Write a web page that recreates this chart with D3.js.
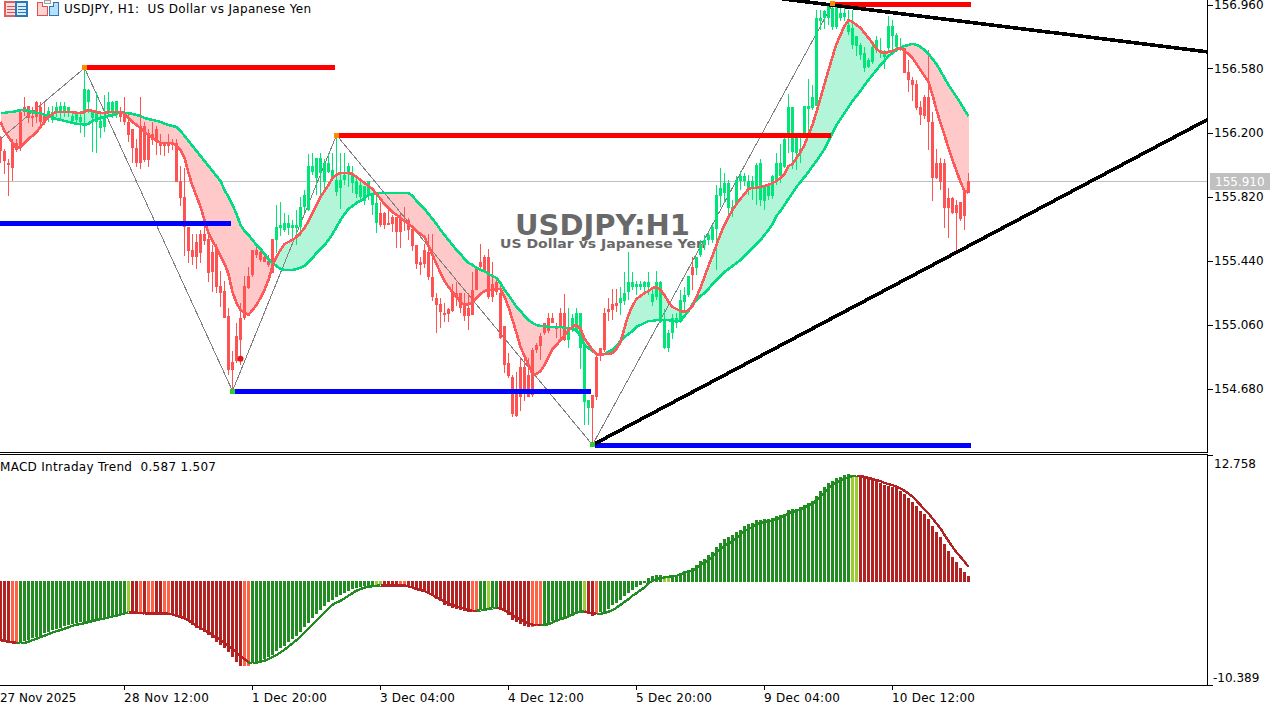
<!DOCTYPE html>
<html><head><meta charset="utf-8"><title>USDJPY H1</title>
<script src="https://cdnjs.cloudflare.com/ajax/libs/d3/7.8.5/d3.min.js"></script>
<style>html,body{margin:0;padding:0;background:#fff;overflow:hidden}svg{display:block}text{white-space:pre;font-family:"DejaVu Sans",sans-serif;font-size:12px;fill:#000}</style>
</head><body><div id="c"></div><script>
const wickHigh=[156.18,156.10,156.04,156.16,156.16,156.33,156.41,156.36,156.35,156.39,
156.38,156.38,156.35,156.36,156.38,156.38,156.38,156.35,156.32,156.33,
156.33,156.58,156.46,156.33,156.44,156.33,156.42,156.44,156.39,156.39,
156.35,156.41,156.32,156.22,156.16,156.41,156.26,156.22,156.26,156.24,
156.19,156.14,156.19,156.16,156.16,156.00,155.99,155.64,155.60,155.60,
155.62,155.69,155.62,155.53,155.54,155.38,155.32,155.16,154.90,155.07,
155.19,155.35,155.40,155.50,155.53,155.52,155.49,155.47,155.57,155.77,
155.79,155.72,155.71,155.68,155.74,155.82,155.86,156.07,156.08,156.05,
156.08,156.04,156.07,156.08,156.19,156.08,156.08,156.02,156.00,155.94,
155.91,155.88,155.91,155.84,155.84,155.79,155.73,155.74,155.71,155.70,
155.72,155.76,155.69,155.64,155.53,155.46,155.54,155.60,155.60,155.25,
155.22,155.19,155.16,155.30,155.31,155.25,155.25,155.25,155.37,155.41,
155.54,155.47,155.51,155.43,155.34,155.31,155.05,154.89,154.76,154.78,
154.87,154.87,154.86,154.92,154.95,155.01,155.07,155.13,155.13,155.07,
155.16,155.24,155.16,155.12,155.16,155.13,154.93,154.61,154.64,154.88,
154.92,155.16,155.22,155.27,155.27,155.28,155.37,155.49,155.37,155.32,
155.32,155.32,155.37,155.28,155.38,155.32,155.15,155.03,155.12,155.13,
155.265,155.28,155.35,155.46,155.46,155.56,155.59,155.61,155.65,155.89,
155.99,155.96,155.92,155.80,155.94,155.97,155.96,155.95,155.94,156.02,
156.04,155.89,155.89,155.95,156.08,156.13,156.17,156.43,156.35,156.20,
156.20,156.36,156.52,156.48,156.93,156.93,156.93,156.96,156.96,156.96,
156.94,156.95,156.93,156.93,156.77,156.73,156.71,156.64,156.72,156.77,
156.76,156.69,156.89,156.87,156.79,156.76,156.70,156.63,156.53,156.51,
156.39,156.42,156.69,156.32,156.10,156.05,156.04,155.87,155.82,155.80,
155.79,155.85,155.96];
const bodyHigh=[156.16,156.09,156.02,156.14,156.14,156.32,156.35,156.36,156.30,156.38,
156.35,156.30,156.33,156.32,156.35,156.36,156.36,156.35,156.30,156.32,
156.29,156.46,156.45,156.33,156.32,156.27,156.29,156.38,156.38,156.39,
156.32,156.32,156.26,156.22,156.11,156.24,156.24,156.20,156.19,156.22,
156.14,156.14,156.14,156.14,156.14,155.91,155.82,155.64,155.50,155.55,
155.60,155.60,155.57,155.49,155.52,155.29,155.26,155.11,154.84,154.99,
155.10,155.29,155.35,155.50,155.50,155.49,155.46,155.44,155.57,155.64,
155.65,155.66,155.66,155.65,155.65,155.76,155.83,156.00,156.00,156.05,
156.05,156.02,156.02,155.98,155.92,155.92,155.95,156.00,155.96,155.91,
155.89,155.88,155.91,155.84,155.78,155.72,155.72,155.66,155.70,155.70,
155.70,155.68,155.68,155.63,155.53,155.43,155.50,155.49,155.34,155.22,
155.18,155.13,155.15,155.25,155.25,155.25,155.18,155.16,155.265,155.40,
155.43,155.46,155.46,155.30,155.31,155.25,155.05,154.83,154.75,154.65,
154.81,154.81,154.76,154.91,154.94,154.99,155.07,155.10,155.10,155.05,
155.13,155.13,155.04,155.10,155.13,155.13,154.93,154.61,154.64,154.87,
154.92,155.13,155.15,155.18,155.19,155.22,155.25,155.31,155.31,155.30,
155.30,155.31,155.31,155.24,155.31,155.31,155.09,155.01,155.10,155.10,
155.205,155.235,155.35,155.40,155.46,155.53,155.56,155.59,155.64,155.83,
155.87,155.90,155.90,155.76,155.92,155.94,155.94,155.91,155.91,156.01,
156.02,155.88,155.88,155.94,156.02,156.02,156.16,156.35,156.35,156.20,
156.10,156.36,156.36,156.41,156.88,156.88,156.92,156.96,156.94,156.96,
156.91,156.91,156.84,156.82,156.77,156.72,156.67,156.63,156.71,156.75,
156.69,156.68,156.83,156.83,156.78,156.71,156.70,156.56,156.51,156.49,
156.35,156.41,156.41,156.26,156.02,156.02,156.02,155.81,155.81,155.77,
155.79,155.85,155.91];
const bodyLow=[156.09,156.03,156.01,155.99,156.10,156.11,156.32,156.29,156.29,156.29,
156.26,156.26,156.30,156.27,156.32,156.32,156.33,156.32,156.27,156.27,
156.26,156.32,156.38,156.29,156.26,156.23,156.23,156.32,156.32,156.32,
156.29,156.26,156.185,156.11,156.02,156.02,156.04,156.04,156.155,156.14,
156.125,156.125,156.125,156.14,155.91,155.81,155.64,155.50,155.46,155.46,
155.49,155.56,155.37,155.37,155.28,155.25,155.10,154.79,154.79,154.84,
154.97,155.10,155.28,155.35,155.47,155.44,155.43,155.415,155.37,155.56,
155.63,155.62,155.63,155.63,155.63,155.64,155.76,155.74,155.965,155.93,
155.96,155.91,155.965,155.94,155.85,155.87,155.92,155.96,155.90,155.83,
155.82,155.79,155.82,155.77,155.66,155.65,155.65,155.65,155.66,155.61,
155.61,155.67,155.62,155.53,155.415,155.415,155.415,155.34,155.22,155.18,
155.13,155.13,155.12,155.145,155.235,155.16,155.11,155.115,155.115,155.265,
155.40,155.385,155.22,155.22,155.25,154.98,154.82,154.75,154.53,154.52,
154.63,154.67,154.63,154.64,154.91,154.93,155.01,155.02,155.07,155.03,
155.05,154.97,154.97,155.05,155.03,154.92,154.60,154.565,154.565,154.63,
154.89,154.91,155.13,155.145,155.175,155.19,155.205,155.25,155.28,155.28,
155.28,155.28,155.28,155.19,155.22,155.07,154.92,154.92,155.01,155.07,
155.085,155.195,155.235,155.355,155.395,155.47,155.53,155.56,155.56,155.63,
155.82,155.84,155.75,155.74,155.77,155.91,155.91,155.86,155.87,155.87,
155.80,155.79,155.82,155.82,155.91,155.94,155.995,156.17,156.08,156.08,
156.085,156.20,156.345,156.345,156.36,156.86,156.88,156.885,156.83,156.83,
156.88,156.885,156.80,156.72,156.71,156.66,156.58,156.59,156.62,156.69,
156.67,156.65,156.70,156.77,156.71,156.69,156.55,156.51,156.48,156.345,
156.30,156.30,156.26,155.93,155.93,155.91,155.75,155.75,155.72,155.72,
155.69,155.70,155.84];
const wickLow=[156.02,155.95,155.82,155.91,156.08,156.09,156.30,156.26,156.23,156.26,
156.23,156.245,156.26,156.26,156.29,156.27,156.29,156.29,156.26,156.26,
156.20,156.17,156.32,156.085,156.08,156.17,156.20,156.30,156.29,156.29,
156.26,156.245,156.14,156.02,155.995,155.98,156.02,155.995,156.125,156.065,
156.065,156.065,156.08,156.095,155.91,155.76,155.47,155.425,155.415,155.395,
155.425,155.53,155.31,155.25,155.25,155.165,155.10,154.76,154.67,154.83,
154.82,155.09,155.27,155.34,155.455,155.43,155.43,155.40,155.37,155.485,
155.59,155.61,155.59,155.56,155.53,155.59,155.73,155.73,155.95,155.83,
155.82,155.86,155.96,155.93,155.82,155.75,155.89,155.88,155.84,155.81,
155.79,155.77,155.80,155.71,155.60,155.64,155.63,155.65,155.61,155.515,
155.515,155.62,155.56,155.50,155.385,155.355,155.40,155.325,155.205,155.01,
155.04,155.075,155.075,155.135,155.165,155.13,155.085,155.03,155.115,155.265,
155.385,155.385,155.215,155.19,155.235,154.97,154.77,154.74,154.51,154.51,
154.55,154.61,154.63,154.63,154.89,154.85,155.00,155.01,155.07,154.98,
154.97,154.96,154.92,155.015,155.015,154.80,154.46,154.46,154.345,154.61,
154.84,154.90,155.085,155.085,155.135,155.115,155.175,155.205,155.265,155.235,
155.265,155.25,155.235,155.165,155.205,155.07,154.91,154.90,154.97,155.04,
155.07,155.145,155.225,155.265,155.355,155.46,155.50,155.53,155.545,155.385,
155.76,155.78,155.72,155.70,155.76,155.86,155.88,155.83,155.80,155.77,
155.76,155.74,155.80,155.81,155.89,155.90,155.99,156.08,155.98,155.98,
156.02,156.17,156.20,156.33,156.36,156.81,156.82,156.84,156.81,156.82,
156.86,156.86,156.78,156.70,156.65,156.63,156.56,156.58,156.61,156.67,
156.64,156.58,156.68,156.69,156.69,156.68,156.55,156.44,156.39,156.33,
156.245,156.275,156.095,155.79,155.92,155.86,155.63,155.575,155.72,155.49,
155.68,155.62,155.84];
const candleTrendRuns=[["r",12],["g",18],["r",39],["g",26],["r",47],["g",6],["r",7],["g",18],["r",1],["g",52],["r",17]];
const fastLine=[156.263,156.209,156.174,156.138,156.108,156.114,156.138,156.162,156.180,156.203,
156.233,156.263,156.292,156.310,156.322,156.322,156.322,156.322,156.322,156.316,
156.316,156.322,156.334,156.328,156.322,156.316,156.316,156.322,156.322,156.322,
156.322,156.310,156.286,156.263,156.245,156.227,156.203,156.185,156.168,156.150,
156.138,156.138,156.138,156.138,156.120,156.096,156.049,155.960,155.883,155.823,
155.758,155.681,155.604,155.556,155.515,155.467,155.420,155.360,155.253,155.188,
155.146,155.129,155.117,155.146,155.176,155.218,155.265,155.325,155.408,155.461,
155.503,155.538,155.550,155.562,155.580,155.604,155.633,155.675,155.722,155.770,
155.817,155.853,155.889,155.930,155.948,155.960,155.960,155.960,155.954,155.936,
155.918,155.900,155.883,155.865,155.835,155.806,155.776,155.752,155.728,155.711,
155.693,155.675,155.657,155.639,155.615,155.598,155.580,155.526,155.473,155.420,
155.366,155.319,155.283,155.253,155.224,155.194,155.176,155.182,155.188,155.218,
155.241,155.259,155.265,155.265,155.271,155.271,155.224,155.164,155.087,155.010,
154.927,154.873,154.820,154.766,154.766,154.784,154.820,154.867,154.915,154.938,
154.968,154.992,155.028,155.046,155.057,155.034,154.974,154.944,154.909,154.885,
154.879,154.885,154.885,154.891,154.915,154.956,155.040,155.117,155.170,155.212,
155.229,155.247,155.259,155.277,155.283,155.265,155.235,155.194,155.164,155.152,
155.140,155.135,155.146,155.170,155.224,155.277,155.342,155.408,155.467,155.532,
155.598,155.651,155.699,155.740,155.776,155.806,155.835,155.865,155.871,155.871,
155.877,155.883,155.889,155.900,155.912,155.930,155.954,156.001,156.013,156.049,
156.084,156.126,156.185,156.245,156.322,156.405,156.488,156.571,156.649,156.726,
156.779,156.833,156.868,156.856,156.839,156.821,156.791,156.761,156.732,156.696,
156.678,156.672,156.678,156.684,156.696,156.702,156.684,156.666,156.643,156.607,
156.571,156.536,156.500,156.423,156.334,156.257,156.185,156.108,156.037,155.972,
155.906,155.853,155.841];
const slowLine=[156.316,156.316,156.322,156.322,156.328,156.334,156.334,156.328,156.322,156.316,
156.316,156.304,156.298,156.286,156.280,156.275,156.269,156.263,156.257,156.251,
156.251,156.245,156.251,156.269,156.280,156.286,156.292,156.298,156.304,156.310,
156.322,156.316,156.316,156.310,156.304,156.298,156.286,156.280,156.275,156.269,
156.263,156.251,156.245,156.239,156.233,156.209,156.180,156.150,156.120,156.090,
156.061,156.031,156.001,155.972,155.942,155.912,155.859,155.817,155.770,155.716,
155.651,155.615,155.592,155.562,155.532,155.509,155.479,155.449,155.420,155.408,
155.390,155.384,155.384,155.384,155.390,155.396,155.408,155.431,155.455,155.485,
155.509,155.532,155.562,155.598,155.639,155.681,155.716,155.746,155.764,155.782,
155.794,155.811,155.829,155.835,155.841,155.841,155.841,155.841,155.841,155.841,
155.841,155.841,155.841,155.823,155.794,155.770,155.746,155.716,155.687,155.657,
155.621,155.592,155.562,155.532,155.503,155.479,155.449,155.425,155.414,155.396,
155.384,155.378,155.360,155.348,155.336,155.307,155.265,155.235,155.200,155.164,
155.140,155.111,155.087,155.069,155.057,155.051,155.051,155.046,155.046,155.046,
155.046,155.040,155.040,155.034,155.022,154.992,154.938,154.921,154.903,154.885,
154.879,154.885,154.897,154.909,154.933,154.962,154.986,155.004,155.022,155.046,
155.057,155.069,155.081,155.081,155.087,155.087,155.087,155.087,155.081,155.081,
155.081,155.111,155.140,155.182,155.206,155.229,155.247,155.271,155.301,155.325,
155.348,155.372,155.390,155.408,155.425,155.443,155.467,155.491,155.515,155.538,
155.562,155.592,155.621,155.657,155.705,155.734,155.770,155.806,155.841,155.877,
155.906,155.936,155.966,156.001,156.031,156.067,156.102,156.150,156.197,156.245,
156.280,156.316,156.352,156.387,156.417,156.447,156.482,156.512,156.542,156.571,
156.601,156.625,156.655,156.672,156.690,156.702,156.714,156.720,156.726,156.720,
156.708,156.690,156.666,156.637,156.607,156.565,156.524,156.482,156.447,156.411,
156.375,156.334,156.298];
const zigzagIndex=[0,21,58,84,148,208];
const zigzagPrice=[156.162,156.583,154.665,156.185,154.345,156.963];
const pivotKinds=["none","high","low","high","low","high"];
const resistance=[[21.5,83.5,156.586],[84.5,207.5,156.184],[208.5,242.5,156.96]];
const support=[[-1,57.5,155.657],[58.5,147.5,154.665],[148.5,242.5,154.34]];
const trendFrom=[[148,154.345],[195.5,156.993]];
const trendTo=[[302,156.28],[302,156.678]];
const arrowSignal=[60,154.857];
const lastPrice=155.910;
const priceTicks=["156.960","156.580","156.200","155.820","155.440","155.060","154.680"];

const macdBars=[-6.00,-6.04,-6.17,-6.17,-6.27,-6.04,-5.97,-5.87,-5.70,-5.60,
-5.43,-5.20,-5.03,-4.89,-4.76,-4.63,-4.49,-4.36,-4.26,-4.19,
-4.09,-4.03,-3.92,-3.82,-3.72,-3.62,-3.55,-3.49,-3.42,-3.32,
-3.26,-3.15,-3.02,-3.09,-3.15,-3.26,-3.28,-3.26,-3.26,-3.22,
-3.22,-3.22,-3.22,-3.28,-3.42,-3.59,-3.76,-3.99,-4.36,-4.63,
-4.86,-5.10,-5.37,-5.70,-6.04,-6.34,-6.71,-7.11,-7.62,-8.12,
-8.52,-8.52,-8.45,-8.18,-8.12,-7.95,-7.78,-7.54,-7.37,-6.94,
-6.71,-6.44,-6.10,-5.77,-5.43,-5.03,-4.59,-4.16,-3.69,-3.22,
-2.82,-2.42,-2.08,-1.81,-1.57,-1.34,-1.14,-.90,-.73,-.64,
-.50,-.44,-.40,-.37,-.33,-.33,-.40,-.40,-.40,-.40,
-.40,-.40,-.54,-.64,-.84,-.90,-1.00,-1.24,-1.48,-1.75,
-1.92,-2.32,-2.48,-2.61,-2.72,-2.82,-2.92,-3.05,-3.09,-2.92,
-2.88,-2.86,-2.68,-2.61,-2.59,-2.75,-2.92,-3.36,-3.86,-4.03,
-4.26,-4.43,-4.59,-4.59,-4.49,-4.36,-4.26,-4.16,-3.99,-3.82,
-3.69,-3.59,-3.42,-3.26,-3.02,-2.95,-2.95,-3.22,-3.42,-3.26,
-3.09,-3.02,-2.75,-2.34,-2.15,-1.81,-1.48,-1.14,-.84,-.57,
-.30,-.10,.40,.54,.67,.67,.54,.54,.67,.73,
.84,1.04,1.21,1.40,1.67,2.08,2.34,2.65,2.95,3.52,
3.89,4.26,4.49,4.70,4.97,5.24,5.57,5.80,5.91,6.17,
6.17,6.27,6.31,6.37,6.58,6.68,6.87,7.18,7.28,7.37,
7.48,7.68,7.88,8.08,8.62,9.12,9.49,9.92,10.13,10.40,
10.59,10.70,10.80,10.73,10.67,10.63,10.56,10.43,10.30,10.13,
9.92,9.73,9.59,9.52,9.39,9.15,8.79,8.45,8.04,7.62,
7.11,6.77,6.31,5.60,4.99,4.53,3.79,3.09,2.48,2.01,
1.40,1.00,.587];
const macdSignal=[-5.87,-5.97,-6.04,-6.10,-6.14,-6.17,-6.14,-6.04,-5.87,-5.74,
-5.57,-5.43,-5.26,-5.10,-4.97,-4.86,-4.72,-4.59,-4.43,-4.32,
-4.26,-4.16,-4.05,-3.96,-3.86,-3.76,-3.69,-3.59,-3.49,-3.42,
-3.28,-3.19,-3.09,-3.09,-3.09,-3.15,-3.19,-3.19,-3.19,-3.19,
-3.19,-3.19,-3.22,-3.28,-3.42,-3.55,-3.69,-3.89,-4.16,-4.43,
-4.66,-4.86,-5.10,-5.33,-5.60,-5.87,-6.17,-6.44,-6.71,-7.11,
-7.45,-7.78,-8.12,-8.18,-8.15,-8.04,-7.95,-7.78,-7.58,-7.37,
-7.11,-6.84,-6.51,-6.20,-5.87,-5.53,-5.10,-4.70,-4.30,-3.89,
-3.52,-3.09,-2.68,-2.32,-2.08,-1.92,-1.67,-1.40,-1.14,-.90,
-.73,-.60,-.50,-.44,-.40,-.37,-.37,-.37,-.37,-.37,
-.37,-.37,-.47,-.57,-.73,-.84,-.94,-1.14,-1.34,-1.57,
-1.78,-1.98,-2.18,-2.34,-2.48,-2.59,-2.72,-2.86,-2.92,-2.92,
-2.88,-2.82,-2.72,-2.68,-2.61,-2.72,-2.88,-3.09,-3.36,-3.59,
-3.82,-4.03,-4.19,-4.32,-4.36,-4.36,-4.36,-4.26,-4.09,-3.92,
-3.76,-3.65,-3.49,-3.32,-3.09,-3.02,-2.99,-3.09,-3.19,-3.22,
-3.22,-3.15,-3.02,-2.86,-2.61,-2.32,-2.01,-1.75,-1.40,-1.14,
-.84,-.57,-.13,.10,.27,.37,.44,.50,.57,.60,
.73,.90,1.04,1.17,1.34,1.67,1.94,2.21,2.51,2.95,
3.28,3.62,3.86,4.09,4.43,4.76,5.10,5.30,5.50,5.77,
5.91,6.04,6.10,6.17,6.31,6.44,6.64,6.87,7.04,7.14,
7.28,7.45,7.64,7.85,8.21,8.56,8.98,9.39,9.73,10.00,
10.19,10.40,10.53,10.63,10.67,10.63,10.56,10.46,10.36,10.23,
10.13,9.96,9.83,9.73,9.56,9.39,9.15,8.89,8.56,8.15,
7.71,7.28,6.87,6.37,5.87,5.37,4.70,4.09,3.52,2.95,
2.51,2.01,1.507];
const macdStateRuns=[["r",3],["o",2],["g",27],["l",1],["r",2],["o",1],["r",1],["o",2],["r",2],["o",2],["r",18],["o",2],["g",31],["l",2],["r",4],["o",2],["r",16],["o",2],["g",2],["l",1],["g",2],["r",8],["o",3],["g",10],["l",1],["r",2],["o",1],["g",16],["l",2],["g",45],["l",2],["r",28]];
const macdMax=12.758, macdMin=-10.389;
const timeLabels=["27 Nov 2025","28 Nov 12:00","1 Dec 20:00","3 Dec 04:00","4 Dec 12:00","5 Dec 20:00","9 Dec 04:00","10 Dec 12:00"];
const timeTickIndex=[-1,31,63,95,127,159,191,223];
const titleText="USDJPY, H1:  US Dollar vs Japanese Yen";
const macdLabel="MACD Intraday Trend  0.587 1.507";
const watermark="USDJPY:H1", watermarkSub="US Dollar vs Japanese Yen";

const W=1284,H=709,axisX=1207.5;
const bull="#00e676",bear="#ff5252";
const stateColor={r:"#b22222",o:"#ff6347",g:"#228b22",l:"#9acd32"};
const expand=runs=>runs.flatMap(([k,n])=>Array(n).fill(k));
const candleTrend=expand(candleTrendRuns), macdState=expand(macdStateRuns);
const idx=d3.range(wickHigh.length);

const x=d3.scaleLinear().domain([0,302]).range([0.5,1208.5]);
const y=d3.scaleLinear().domain([156.96,154.68]).range([4.5,388.5]);
const ym=d3.scaleLinear().domain([macdMax,macdMin]).range([455,685]);

const svg=d3.select("#c").append("svg").attr("width",W).attr("height",H).attr("viewBox",`0 0 ${W} ${H}`);

// watermark
svg.append("text").attr("x",515).attr("y",234.5).text(watermark)
 .attr("textLength",175).attr("lengthAdjust","spacingAndGlyphs")
 .style("font-weight","bold").style("font-size","28px").style("fill","#696969");
svg.append("text").attr("x",500).attr("y",247.5).text(watermarkSub)
 .attr("textLength",206).attr("lengthAdjust","spacingAndGlyphs")
 .style("font-weight","bold").style("font-size","13px").style("fill","#696969");

const main=svg.append("g").attr("shape-rendering","crispEdges");
// last price line
main.append("line").attr("x1",0).attr("x2",axisX).attr("y1",Math.round(y(lastPrice))+.5).attr("y2",Math.round(y(lastPrice))+.5).attr("stroke","#c0c0c0");

// ribbon
const area=d3.area().x(i=>x(i)).y0(i=>y(fastLine[i])).y1(i=>y(slowLine[i]));
main.append("g").selectAll("path").data(idx.slice(0,-1)).join("path")
 .attr("d",i=>area([i,i+1]))
 .attr("fill",i=>(fastLine[i]+fastLine[i+1])>(slowLine[i]+slowLine[i+1])?"#b2f5d8":"#ffc9c9");

// zigzag
main.append("path").datum(zigzagIndex).attr("fill","none").attr("stroke","#808080").attr("stroke-width",1)
 .attr("d",d3.line().x(i=>x(i)).y((i,k)=>y(zigzagPrice[k])));

// candles
const cg=main.append("g");
const col=i=>candleTrend[i]==="g"?bull:bear;
cg.selectAll("rect.w").data(idx).join("rect").attr("class","w")
 .attr("x",i=>x(i)-.5).attr("width",1)
 .attr("y",i=>Math.round(y(wickHigh[i]))).attr("height",i=>Math.max(1,Math.round(y(wickLow[i])-y(wickHigh[i]))))
 .attr("fill",col);
cg.selectAll("rect.b").data(idx).join("rect").attr("class","b")
 .attr("x",i=>x(i)-1.5).attr("width",3)
 .attr("y",i=>Math.round(y(bodyHigh[i]))).attr("height",i=>Math.max(2,Math.round(y(bodyLow[i])-y(bodyHigh[i]))))
 .attr("fill",col);

// averages
const ln=a=>d3.line().x((d,i)=>x(i)).y(d=>y(d))(a);
main.append("path").attr("d",ln(slowLine)).attr("fill","none").attr("stroke","#00dc82").attr("stroke-width",2.6);
main.append("path").attr("d",ln(fastLine)).attr("fill","none").attr("stroke","#ff5858").attr("stroke-width",2.6);

// levels
const levels=main.append("g");
levels.selectAll("rect.res").data(resistance).join("rect").attr("class","res")
 .attr("x",d=>x(d[0])).attr("width",d=>x(d[1])-x(d[0])).attr("y",d=>y(d[2])-2.5).attr("height",5).attr("fill","#ff0000");
levels.selectAll("rect.sup").data(support).join("rect").attr("class","sup")
 .attr("x",d=>x(d[0])).attr("width",d=>x(d[1])-x(d[0])).attr("y",d=>y(d[2])-2.5).attr("height",5).attr("fill","#0000ff");

// trend lines
main.append("g").selectAll("line").data(trendFrom).join("line")
 .attr("x1",d=>x(d[0])).attr("y1",d=>y(d[1]))
 .attr("x2",(d,i)=>x(trendTo[i][0])).attr("y2",(d,i)=>y(trendTo[i][1]))
 .attr("stroke","#000").attr("stroke-width",3.6);

// pivots
main.append("g").selectAll("rect").data(zigzagIndex.map((d,i)=>i).filter(i=>pivotKinds[i]!=="none")).join("rect")
 .attr("x",i=>x(zigzagIndex[i])-2.5).attr("y",i=>y(zigzagPrice[i])-2.5).attr("width",5).attr("height",5)
 .attr("fill",i=>pivotKinds[i]==="high"?"#ff8c00":"#32cd32");
svg.append("circle").attr("cx",x(arrowSignal[0])).attr("cy",y(arrowSignal[1])).attr("r",3).attr("fill","#e01818");

// cover anything past the axis
svg.append("rect").attr("x",axisX+.5).attr("y",0).attr("width",W-axisX).attr("height",H).attr("fill","#fff");
svg.append("rect").attr("x",0).attr("y",452.5).attr("width",W).attr("height",3).attr("fill","#fff");

// MACD bars
const mg=svg.append("g").attr("shape-rendering","crispEdges");
const zero=ym(0);
const barTop=i=>macdBars[i]<0?Math.floor(zero):Math.round(ym(macdBars[i]));
const barBottom=i=>macdBars[i]<0?Math.round(ym(macdBars[i])):Math.ceil(zero);
mg.selectAll("rect").data(idx).join("rect")
 .attr("x",i=>x(i)-1.5).attr("width",3)
 .attr("y",barTop).attr("height",i=>Math.max(1,barBottom(i)-barTop(i)))
 .attr("fill",i=>stateColor[macdState[i]]);
const sigCol=i=>(macdState[i]==="g"||macdState[i]==="l")?"#228b22":"#b22222";
mg.selectAll("path").data(idx.slice(0,-1)).join("path")
 .attr("d",i=>d3.line().x(k=>x(k)).y(k=>ym(macdSignal[k]))([i,i+1]))
 .attr("fill","none").attr("stroke-width",2.4).attr("stroke",i=>sigCol(i+1));

// frame
const frame=svg.append("g").attr("stroke","#000").attr("shape-rendering","crispEdges");
frame.append("line").attr("x1",0).attr("x2",axisX+.5).attr("y1",452.5).attr("y2",452.5);
frame.append("line").attr("x1",0).attr("x2",axisX+.5).attr("y1",454.5).attr("y2",454.5);
frame.append("line").attr("x1",0).attr("x2",axisX+.5).attr("y1",685.5).attr("y2",685.5);
frame.append("line").attr("x1",axisX).attr("x2",axisX).attr("y1",0).attr("y2",452.5);
frame.append("line").attr("x1",axisX).attr("x2",axisX).attr("y1",454.5).attr("y2",685.5);

// price axis
const pa=svg.append("g");
priceTicks.forEach(t=>{
 const py=Math.round(y(+t))+.5;
 pa.append("line").attr("x1",axisX).attr("x2",axisX+5).attr("y1",py).attr("y2",py).attr("stroke","#000").attr("shape-rendering","crispEdges");
});
// current price tag
pa.append("rect").attr("x",1210).attr("y",173).attr("width",60).attr("height",17).attr("fill","#c0c0c0");
pa.selectAll("text.p").data(priceTicks).join("text").attr("class","p").attr("x",1214).attr("y",d=>y(+d)+4.5).text(d=>d);
pa.append("text").attr("x",1215).attr("y",y(lastPrice)+4.5).text(lastPrice.toFixed(3)).style("fill","#fff");

// MACD axis
[[macdMax,463],[macdMin,677]].forEach(([v,ty])=>{
 const py=Math.round(ym(v))+.5;
 pa.append("line").attr("x1",axisX).attr("x2",axisX+5).attr("y1",py).attr("y2",py).attr("stroke","#000").attr("shape-rendering","crispEdges");
 pa.append("text").attr("x",v<0?1213:1214).attr("y",ty+4.5).text(v.toFixed(3));
});

// time axis
const timeLabelWidths=[76.5,85,75,75,76,76,76,83];
const ta=svg.append("g");
timeTickIndex.forEach((t,k)=>{
 const tx=Math.floor(x(t))+.5;
 ta.append("line").attr("x1",tx).attr("x2",tx).attr("y1",685).attr("y2",690).attr("stroke","#000").attr("shape-rendering","crispEdges");
 ta.append("text").attr("x",Math.max(0,tx-.5)).attr("y",702).attr("textLength",timeLabelWidths[k]).attr("lengthAdjust","spacing").text(timeLabels[k]);
});

// labels
svg.append("text").attr("x",64).attr("y",13).attr("textLength",247).attr("lengthAdjust","spacing").text(titleText);
svg.append("text").attr("x",0).attr("y",471).attr("textLength",216).attr("lengthAdjust","spacing").text(macdLabel);

// toolbar icons
const ic=svg.append("g").attr("shape-rendering","crispEdges");
ic.append("rect").attr("x",5).attr("y",2).attr("width",11).attr("height",14).attr("fill","#fcdcdc").attr("stroke","#e06060").attr("stroke-width",2);
ic.append("rect").attr("x",16).attr("y",2).attr("width",11).attr("height",14).attr("fill","#d8ecfa").attr("stroke","#2878b8").attr("stroke-width",2);
[5.5,8.5,11.5].forEach(ly=>{
 ic.append("rect").attr("x",7).attr("y",ly).attr("width",8).attr("height",1.5).attr("fill","#e05050");
 ic.append("rect").attr("x",18).attr("y",ly).attr("width",8).attr("height",1.5).attr("fill","#2878b8");
});
ic.append("path").attr("d","M37.5 2.5H42.5V6.5H47.5V15.5H37.5Z").attr("fill","#ffd4d0").attr("stroke","#e05050").attr("stroke-width",1.6);
ic.append("path").attr("d","M49.5 6.5H53.5V2.5H58.5V15.5H49.5Z").attr("fill","#b8e0f8").attr("stroke","#2878b8").attr("stroke-width",1.6);
ic.append("rect").attr("x",44.5).attr("y",.5).attr("width",6).attr("height",3).attr("fill","#f0f0f0").attr("stroke","#a0a0a0");
</script></body></html>
